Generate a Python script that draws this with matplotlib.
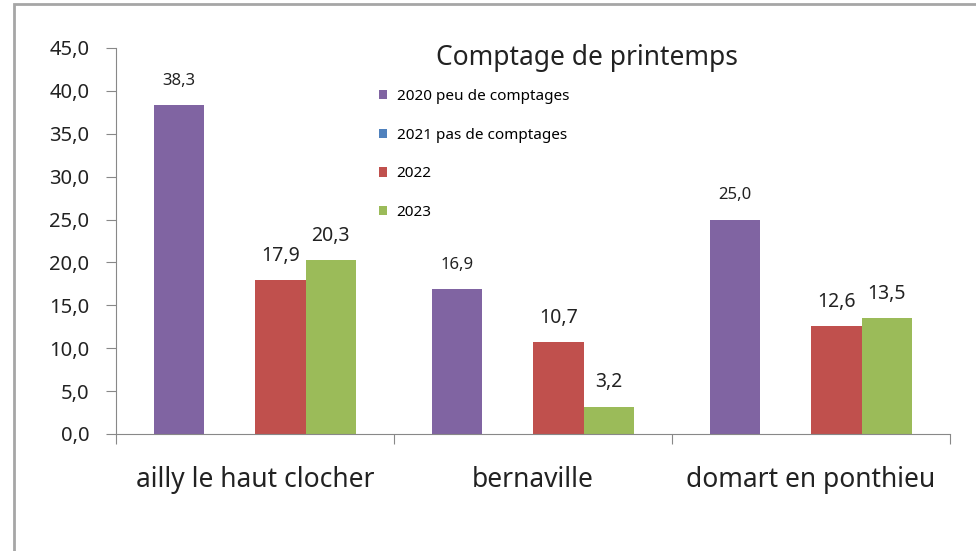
import numpy as np
import matplotlib.pyplot as plt
from matplotlib.patches import Rectangle

plt.rcParams['font.family'] = ['Noto Sans', 'DejaVu Sans']

categories = ["ailly le haut clocher", "bernaville", "domart en ponthieu"]
series_names = ["2020 peu de comptages", "2021 pas de comptages", "2022", "2023"]
v2020 = [38.3, 16.9, 25.0]
v2021 = [np.nan, np.nan, np.nan]
v2022 = [17.9, 10.7, 12.6]
v2023 = [20.3, 3.2, 13.5]
colors = ["#8064A2", "#4F81BD", "#C0504D", "#9BBB59"]

fig = plt.figure(figsize=(9.76, 5.51), dpi=100)
fig.patches.append(Rectangle((14/976, -0.1), 1.2, 1 - 4/551 + 0.1, transform=fig.transFigure,
                             fill=False, edgecolor="#a6a6a6", linewidth=2))
ax = fig.add_axes([116/976, 1-434/551, (950-116)/976, (434-48)/551])

x = np.arange(len(categories))
w = 1/5.5
for i, (vals, name, c) in enumerate(zip([v2020, v2021, v2022, v2023], series_names, colors)):
    pos = x + (i - 1.5)*w
    ax.bar(pos, vals, width=w, color=c, label=name)
    for p, v in zip(pos, vals):
        if not np.isnan(v):
            ax.annotate(f"{v:.1f}".replace(".", ","), (p, v), xytext=(0, 17.5),
                        textcoords="offset points", ha="center", va="center",
                        fontsize=12 if i == 0 else 14, color="#222222")

ax.set_xlim(-0.5, 2.5)
ax.set_ylim(0, 45)
ticks = np.arange(0, 46, 5)
ax.set_yticks(ticks)
ax.set_yticklabels([f"{t:.1f}".replace(".", ",") for t in ticks], fontsize=14.5, color="#222222")
ax.set_xticks([-0.5, 0.5, 1.5, 2.5])
ax.set_xticklabels([])
ax.set_xticks(x, minor=True)
ax.set_xticklabels(categories, minor=True, fontsize=19, color="#222222")
ax.tick_params(axis="x", which="minor", length=0, pad=23)
ax.tick_params(axis="x", which="major", length=7, color="#888888", direction="out")
ax.tick_params(axis="y", length=7, color="#888888", pad=12)
for s in ["top", "right"]:
    ax.spines[s].set_visible(False)
for s in ["left", "bottom"]:
    ax.spines[s].set_color("#888888")

fig.text(587/976, 1-58/551, "Comptage de printemps", ha="center", va="center", fontsize=19, color="#222222")
ax.legend(loc="upper left", bbox_to_anchor=((379-116)/834, 1-(89-48)/386), frameon=False,
          fontsize=11, handlelength=0.55, handleheight=0.55, handletextpad=0.6,
          labelspacing=1.55, borderpad=0, borderaxespad=0)

fig.savefig("out.png", dpi=100, facecolor="white")
